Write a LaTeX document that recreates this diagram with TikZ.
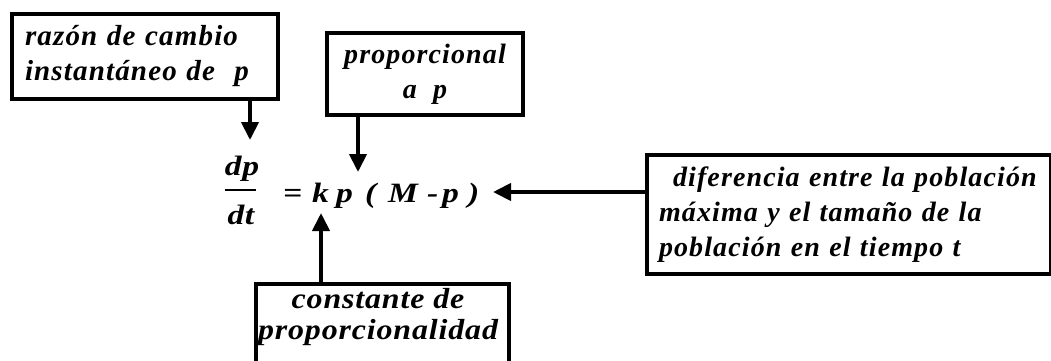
\documentclass[tikz,border=0pt]{standalone}
\usepackage{fontspec}
\setmainfont{Liberation Serif}[LetterSpace=4]
\newfontfamily\wideserif{Liberation Serif}[FakeStretch=1.2, LetterSpace=2]
\newfontfamily\midserif{Liberation Serif}[FakeStretch=1.1, LetterSpace=3]
\usetikzlibrary{arrows.meta}
\begin{document}
\begin{tikzpicture}[x=1pt,y=-1pt,
 box/.style={draw=black, line width=4pt, inner sep=0pt, anchor=north west},
 txt/.style={font=\fontsize{28}{35}\selectfont\bfseries\itshape, inner sep=0pt},
 txtbig/.style={font=\fontsize{29}{35}\selectfont\bfseries\itshape, inner sep=0pt},
 txtmid/.style={font=\midserif\fontsize{29}{31}\selectfont\bfseries\itshape, inner sep=0pt},
 eqtxt/.style={font=\wideserif\fontsize{28}{35}\selectfont\bfseries\itshape, inner sep=0pt},
 arr/.style={line width=4pt, -{Triangle[length=18pt,width=17pt]}}]
\useasboundingbox (0,0) rectangle (1051,360);
\clip (0,0) rectangle (1051,360);
% boxes
\node[box, txtbig, minimum width=266pt, minimum height=85pt, text width=240pt, align=left] (b1) at (10,12) {razón de cambio\\instantáneo de\ \ p};
\node[box, txt, minimum width=196pt, minimum height=82pt, align=center] (b2) at (325,31) {proporcional\\a\ \ p};
\node[box, txt, minimum width=404pt, minimum height=119pt, text width=380pt, align=left] (b4) at (645,153) {\hspace*{14pt}diferencia entre la población\\máxima y el tamaño de la\\población en el tiempo t};
\node[box, minimum width=253pt, minimum height=90pt] (b5) at (254,282) {};
\node[txtmid, align=center, anchor=north] (b5t) at (378,288) {constante de\\proporcionalidad};
% equation
\node[eqtxt, anchor=base] (dp) at (242,175) {dp};
\node[eqtxt, anchor=base] (dt) at (241,224) {dt};
\draw[line width=2.5pt] (225,190) -- (256,190);
\node[eqtxt, anchor=base west] (eq) at (283,202) {\rlap{=}\hspace{29pt}\rlap{k}\hspace{24pt}\rlap{p}\hspace{29pt}\rlap{(}\hspace{23pt}\rlap{M}\hspace{39pt}\rlap{-}\hspace{15pt}\rlap{p}\hspace{26pt})};
% arrows
\coordinate (t1) at (250,140);
\coordinate (t2) at (358,172);
\coordinate (t3) at (493,192);
\coordinate (t4) at (321,213);
\draw[arr] (b1.south -| t1) -- (t1);
\draw[arr] (b2.south -| t2) -- (t2);
\draw[arr] (b4.west |- t3) -- (t3);
\draw[arr] (b5.north -| t4) -- (t4);
\end{tikzpicture}
\end{document}
